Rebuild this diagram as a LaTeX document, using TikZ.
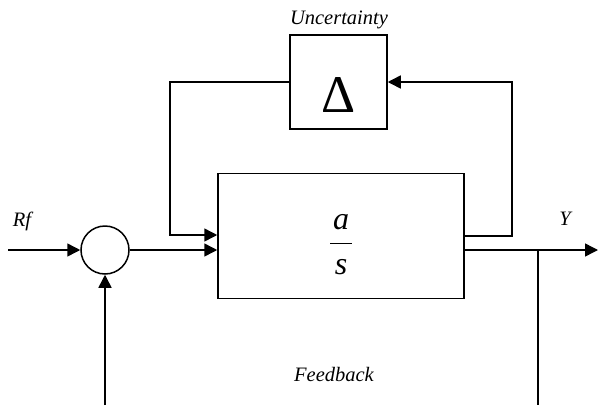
\documentclass[tikz,border=0pt]{standalone}
\usepackage{fontspec}
\setmainfont{Liberation Serif}
\usetikzlibrary{arrows.meta,positioning}
\tikzset{>={Triangle[length=13pt,width=13pt]}}
\colorlet{penColor}{black}
\tikzset{
  blockbox/.style={draw,penColor,line width=1.5pt,inner sep=0pt},
  wire/.style={penColor,line width=1.5pt},
  lbl/.style={penColor,font=\fontsize{20.5}{20.5}\selectfont\itshape}
}

\begin{document}
\begin{tikzpicture}[x=1pt,y=-1pt]
\useasboundingbox (0,0) rectangle (598,405);
% blocks
\node[blockbox, minimum width=246, minimum height=125] (plant) at (341,236) {};
\node[blockbox, minimum width=97, minimum height=94] (delta) at (338.5,82) {};
\node[blockbox, circle, minimum size=48] (sum) at (105,250) {};
% block contents
\node[penColor,font=\fontsize{53}{53}\selectfont] (deltasym) at (339,95) {Δ};
\node[penColor,font=\fontsize{32}{32}\selectfont\itshape] (numer) at (341,222) {a};
\node[penColor,font=\fontsize{32}{32}\selectfont\itshape] (denom) at (341,267) {s};
\draw[penColor, line width=0.8pt] (330,243) -- (352,243);
% labels
\node[lbl] (rflbl) at (22,221) {Rf};
\node[lbl] (ylbl) at (565,219) {Y};
\node[lbl] (unclbl) at (339,20) {Uncertainty};
\node[lbl] (fblbl) at (334,374) {Feedback};
% free ends
\coordinate (rfin) at (8,250);
\coordinate (fbin) at (105,405);
\coordinate (lft) at (170,235);
\coordinate (rgt) at (512,236);
\coordinate (yout) at (598,250);
\coordinate (tap) at (538,250);
\coordinate (fbout) at (538,405);
% connectors
\draw[wire,->] (rfin) -- (sum.west);
\draw[wire,->] (fbin) -- (sum.south);
\draw[wire,->] (sum.east) -- (sum.east -| plant.west);
\draw[wire,->] (delta.west) -| (lft) -- (plant.west |- lft);
\draw[wire,->] (plant.east |- rgt) -- (rgt) |- (delta.east);
\draw[wire,->] (plant.east |- yout) -- (yout);
\draw[wire] (tap) -- (fbout);
\end{tikzpicture}
\end{document}
